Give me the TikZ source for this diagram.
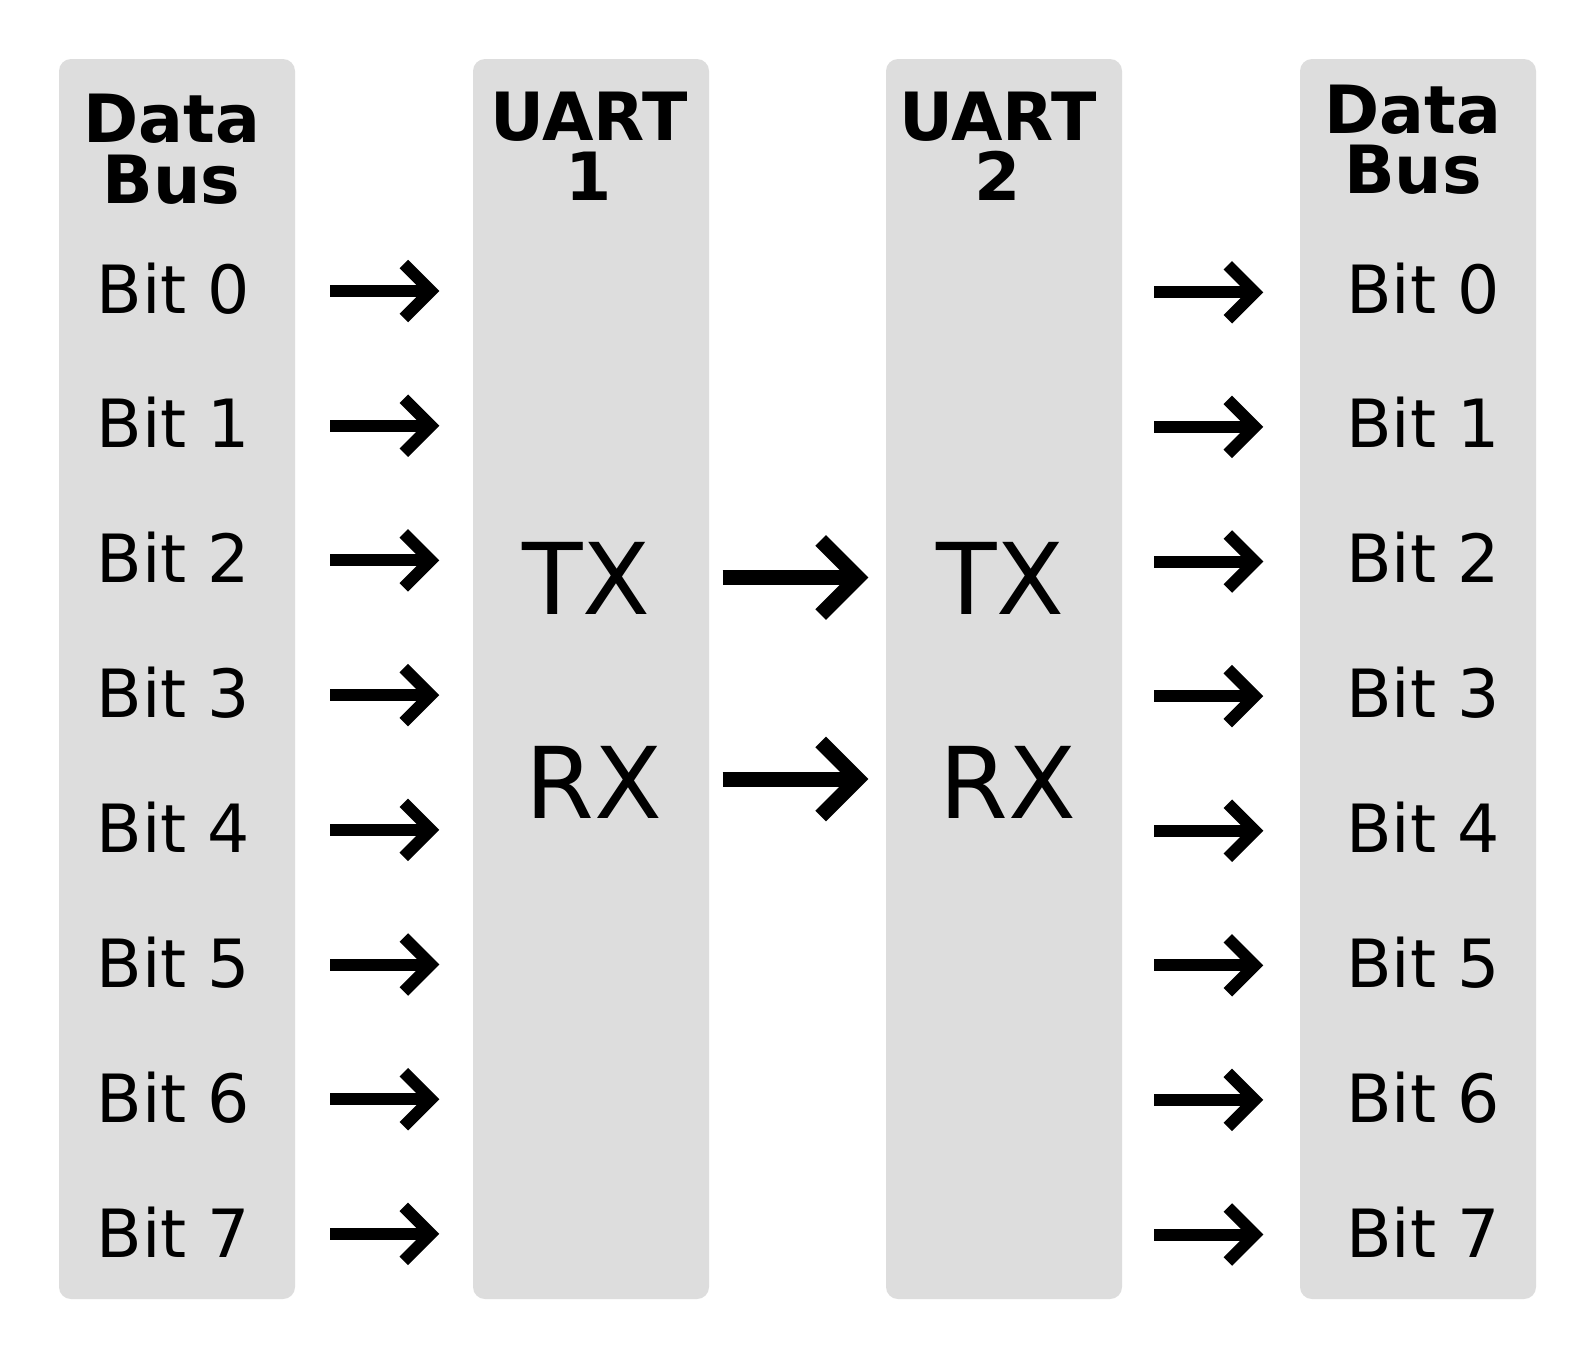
\documentclass[tikz,border=0pt]{standalone}
\usepackage{fontspec}
\setmainfont{DejaVu Sans}
\definecolor{colgray}{HTML}{DDDDDD}
\begin{document}
\begin{tikzpicture}[x=1pt,y=-1pt,
  col/.style={fill=colgray,draw=none,rounded corners=12pt},
  head/.style={font=\fontsize{66.5}{66.5}\selectfont\bfseries,inner sep=0pt,anchor=base},
  bitlbl/.style={font=\fontsize{66.5}{66.5}\selectfont,inner sep=0pt,anchor=base},
  bigl/.style={font=\fontsize{99}{99}\selectfont,inner sep=0pt,anchor=base},
  sarrow/.style={line width=12pt,line cap=butt,line join=miter},
  barrow/.style={line width=15pt,line cap=butt,line join=miter}]
\useasboundingbox (0,0) rectangle (1594,1358);
\fill[white] (0,0) rectangle (1594,1358);
% columns
\fill[col] (59,59) rectangle (295,1299);
\fill[col] (473,59) rectangle (709,1299);
\fill[col] (886,59) rectangle (1122,1299);
\fill[col] (1300,59) rectangle (1536,1299);
% headers
\node[head] (h1a) at (171.5,142.4) {Data};
\node[head] (h1b) at (171.5,203) {Bus};
\node[head] (h2a) at (589,140.4) {UART};
\node[head] (h2b) at (589,200.5) {1};
\node[head] (h3a) at (998,140.4) {UART};
\node[head] (h3b) at (998,200.5) {2};
\node[head] (h4a) at (1413,133.5) {Data};
\node[head] (h4b) at (1413,193) {Bus};
% TX / RX
\node[bigl] (tx1) at (586.5,614.5) {TX};
\node[bigl] (rx1) at (594,818.5) {RX};
\node[bigl] (tx2) at (1000.5,614.5) {TX};
\node[bigl] (rx2) at (1007.6,818.5) {RX};
% big arrows
\foreach \n/\y in {t/577.5,r/779}{
  \coordinate (\n s) at (722.7,\y);
  \coordinate (\n e) at (857.7,\y);
  \draw[barrow] (\n s) -- ([xshift=-2pt]\n e);
  \draw[barrow] ([shift={(-37,-37)}]\n e) -- (\n e) -- ([shift={(-37,37)}]\n e);
}
% bits
\foreach \i in {0,...,7}{
  \pgfmathsetmacro{\yb}{313+134.9*\i}
  \pgfmathsetmacro{\ya}{291+134.7*\i}
  \pgfmathsetmacro{\yc}{292.3+134.6*\i}
  \node[bitlbl] (lb\i) at (173.5,\yb) {Bit \i};
  \node[bitlbl] (rb\i) at (1423,\yb) {Bit \i};
  \coordinate (las\i) at (330.3,\ya);
  \coordinate (lae\i) at (430.8,\ya);
  \coordinate (ras\i) at (1154.3,\yc);
  \coordinate (rae\i) at (1254.8,\yc);
  \draw[sarrow] (las\i) -- ([xshift=-2pt]lae\i);
  \draw[sarrow] ([shift={(-27,-27)}]lae\i) -- (lae\i) -- ([shift={(-27,27)}]lae\i);
  \draw[sarrow] (ras\i) -- ([xshift=-2pt]rae\i);
  \draw[sarrow] ([shift={(-27,-27)}]rae\i) -- (rae\i) -- ([shift={(-27,27)}]rae\i);
}
\end{tikzpicture}
\end{document}
